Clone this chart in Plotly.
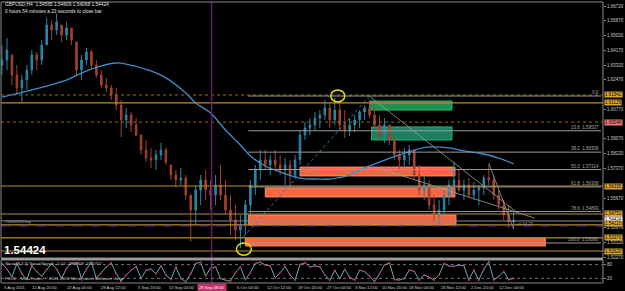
import plotly.graph_objects as go

# ---------------- data ----------------
# price candles (one candle per ~5 H4 bars)
highs = [1.6448,1.6488,1.6390,1.6332,1.6275,1.6332,1.6419,1.6407,1.6476,1.6603,
         1.6591,1.6626,1.6563,1.6580,1.6545,1.6465,1.6390,1.6430,1.6419,1.6361,
         1.6304,1.6258,1.6217,1.6200,1.6131,1.6085,1.6062,1.6027,1.5930,1.5901,
         1.5855,1.5843,1.5884,1.5855,1.5757,1.5728,1.5740,1.5699,1.5584,1.5642,
         1.5699,1.5728,1.5671,1.5699,1.5757,1.5671,1.5584,1.5527,1.5469,1.5556,
         1.5671,1.5757,1.5843,1.5843,1.5815,1.5843,1.5815,1.5797,1.5786,1.5815,
         1.5958,1.6004,1.6027,1.6062,1.6073,1.6131,1.6114,1.6143,1.6131,1.6073,
         1.6027,1.6045,1.6073,1.6102,1.6120,1.6085,1.6045,1.6027,1.5987,1.5930,
         1.5843,1.5855,1.5872,1.5843,1.5757,1.5699,1.5671,1.5584,1.5556,1.5613,
         1.5671,1.5774,1.5728,1.5671,1.5682,1.5659,1.5642,1.5699,1.5757,1.5699,
         1.5613,1.5556,1.5527,1.5486]
lows = [1.6275,1.6304,1.6217,1.6160,1.6120,1.6189,1.6275,1.6304,1.6332,1.6448,
        1.6476,1.6505,1.6465,1.6476,1.6448,1.6275,1.6246,1.6332,1.6304,1.6258,
        1.6200,1.6177,1.6131,1.6073,1.5918,1.5970,1.5947,1.5924,1.5815,1.5774,
        1.5740,1.5728,1.5786,1.5757,1.5671,1.5630,1.5642,1.5556,1.5314,1.5412,
        1.5527,1.5556,1.5498,1.5527,1.5556,1.5469,1.5354,1.5325,1.5279,1.5354,
        1.5469,1.5584,1.5671,1.5728,1.5699,1.5728,1.5699,1.5642,1.5625,1.5682,
        1.5757,1.5901,1.5930,1.5958,1.5970,1.6016,1.5970,1.5987,1.5958,1.5912,
        1.5924,1.5947,1.5970,1.6016,1.6027,1.5958,1.5901,1.5884,1.5872,1.5786,
        1.5728,1.5740,1.5757,1.5671,1.5584,1.5556,1.5498,1.5429,1.5406,1.5469,
        1.5527,1.5584,1.5602,1.5556,1.5567,1.5556,1.5527,1.5584,1.5642,1.5556,
        1.5498,1.5440,1.5394,1.5389]
closes = [1.6361,1.6419,1.6275,1.6200,1.6246,1.6304,1.6390,1.6361,1.6448,1.6563,
          1.6534,1.6580,1.6505,1.6545,1.6476,1.6304,1.6361,1.6407,1.6332,1.6275,
          1.6217,1.6200,1.6160,1.6102,1.6016,1.6045,1.5987,1.5930,1.5843,1.5797,
          1.5786,1.5815,1.5843,1.5774,1.5699,1.5671,1.5682,1.5584,1.5498,1.5613,
          1.5671,1.5613,1.5584,1.5642,1.5584,1.5498,1.5440,1.5383,1.5412,1.5527,
          1.5642,1.5728,1.5786,1.5757,1.5786,1.5757,1.5728,1.5757,1.5699,1.5786,
          1.5930,1.5970,1.5987,1.6027,1.6045,1.6085,1.6016,1.6073,1.5987,1.5958,
          1.5987,1.6016,1.6062,1.6085,1.6045,1.5987,1.5930,1.5987,1.5901,1.5815,
          1.5786,1.5815,1.5843,1.5699,1.5613,1.5642,1.5527,1.5469,1.5498,1.5584,
          1.5642,1.5671,1.5613,1.5642,1.5584,1.5613,1.5625,1.5682,1.5671,1.5584,
          1.5527,1.5469,1.5429,1.5440]
first_open = 1.6332

# moving average (bar index, price)
ma_bar = [0, 6, 13, 16, 20, 23, 25, 30, 33, 37, 39, 42, 45, 48, 50, 53, 56, 60,
          64, 66, 70, 73, 76, 80, 83, 86, 90, 93, 96, 100, 103]
ma_val = [1.6148, 1.6189, 1.6246, 1.6286, 1.6327, 1.6344, 1.6338, 1.6298, 1.6258,
          1.6171, 1.6114, 1.6056, 1.5958, 1.5872, 1.5809, 1.5751, 1.5717, 1.5682,
          1.5676, 1.5676, 1.5699, 1.5740, 1.5774, 1.5815, 1.5843, 1.5861, 1.5855,
          1.5838, 1.5826, 1.5797, 1.5763]

# stochastic oscillator
stoch = [85,60,27,85,40,15,75,50,30,60,
         85,60,20,65,85,88,20,60,90,20,
         45,70,88,40,8,35,55,72,20,55,
         60,40,75,35,15,70,20,5,40,85,
         90,30,65,70,20,12,8,45,70,15,
         45,85,90,78,75,22,45,72,35,13,
         80,88,70,75,70,35,12,55,20,60,
         25,13,55,50,30,6,40,78,88,15,
         13,20,56,50,13,35,25,13,35,85,
         75,72,78,75,13,56,13,60,92,13,
         28,50,15,20]
stoch_levels = [20, 80]

# fibonacci retracement
fib_pct = ["0.0", "23.6", "38.2", "50.0", "61.8", "78.6", "100.0"]
fib_price = [1.6154, 1.5954, 1.5831, 1.5731, 1.5631, 1.5489, 1.5308]
fib_text = ["", "1.59537", "1.58308", "1.57314", "1.56308", "1.54893", "1.53080"]
fib_start, fib_end = 49.6, 120.6
fib_diag_bar = [48.6, 74.0]
fib_diag_price = [1.5343, 1.6154]

# horizontal levels
gold_levels = [1.6114, 1.5636, 1.5475, 1.5412, 1.5337, 1.5262]
dotted_levels = [1.6160, 1.6004]
order_level = 1.5435
stop_level = 1.5406

# zones (bar0, bar1, price_top, price_bottom)
green_zones = [(74.0, 90.6, 1.6125, 1.6073), (74.4, 90.6, 1.5976, 1.5901)]
red_zones = [(60.0, 91.2, 1.5745, 1.5694), (53.0, 91.2, 1.5625, 1.5573),
             (49.6, 91.4, 1.5469, 1.5412), (49.0, 109.4, 1.5337, 1.5291)]

# trend lines (bar0, price0, bar1, price1)
trend_lines = [(74.2, 1.6148, 103.6, 1.5486), (75.6, 1.5740, 107.2, 1.5452),
               (98.0, 1.5768, 103.0, 1.5389)]

# circles (bar0, bar1, price_top, price_bottom)
circles = [(66.2, 69.0, 1.6189, 1.6120), (47.2, 50.2, 1.5308, 1.5238)]

vline_bar = 42.2

# price axis ticks
price_ticks = [1.66720, 1.65870, 1.65020, 1.64170, 1.63320, 1.62470, 1.60770,
               1.59070, 1.58220, 1.57370, 1.55670, 1.53970, 1.53120, 1.52270]

# right-axis price tags (price, text, colour)
price_tags = [(1.6160, "1.61542", "#d9a531"), (1.6114, "1.61125", "#d9a531"),
              (1.6004, "1.60048", "#f07a7a"), (1.5636, "1.56335", "#d9a531"),
              (1.5475, "1.54752", "#d9a531"), (1.5444, "1.54424", "#ffffff"),
              (1.5418, "1.54120", "#d9a531"), (1.5337, "1.53370", "#d9a531"),
              (1.5262, "1.52620", "#d9a531")]

# time axis
time_labels = ["5 Aug 2011", "12 Aug 20:00", "22 Aug 04:00", "29 Aug 12:00",
               "5 Sep 20:00", "13 Sep 04:00", "20 Sep 12:00", "6 Oct 04:00",
               "12 Oct 12:00", "19 Oct 20:00", "27 Oct 04:00", "3 Nov 12:00",
               "10 Nov 20:00", "18 Nov 04:00", "25 Nov 12:00", "2 Dec 20:00",
               "12 Dec 04:00"]
time_pos = [0, 5.6, 12.6, 19.6, 27, 33.2, 39.2, 47, 53, 59.2, 65, 70.6, 76.2,
            81.6, 88, 94, 99.6]
cursor_label = "29 Sep 08:00"

# ---------------- figure ----------------
W, H = 625, 291
ML, MR, MT, MB = 1, 18, 2, 8
PW, PH = W - ML - MR, H - MT - MB


def PX(x):
    return (x - ML) / PW


def PY(y):
    return (H - MB - y) / PH


bars = list(range(len(closes)))
opens = []
prev = first_open
for o_h, o_l, c in zip(highs, lows, closes):
    opens.append(min(max(prev, o_l), o_h))
    prev = c

UP, DN = "#2b86a6", "#a3422c"
fig = go.Figure()
fig.add_trace(go.Candlestick(
    x=bars, open=opens, high=highs, low=lows, close=closes,
    increasing=dict(line=dict(color=UP, width=1), fillcolor=UP),
    decreasing=dict(line=dict(color=DN, width=1), fillcolor=DN),
    whiskerwidth=0, xaxis="x", yaxis="y", hoverinfo="skip"))
fig.add_trace(go.Scatter(x=ma_bar, y=ma_val, mode="lines", line=dict(color="#3f8cc8", width=1.3, shape="spline"),
                         xaxis="x", yaxis="y", hoverinfo="skip"))
fig.add_trace(go.Scatter(x=fib_diag_bar, y=fib_diag_price, mode="lines",
                         line=dict(color="#2d7fb8", width=1, dash="dot"), xaxis="x", yaxis="y"))
for b0, p0, b1, p1 in trend_lines:
    fig.add_trace(go.Scatter(x=[b0, b1], y=[p0, p1], mode="lines",
                             line=dict(color="#a0a0a0", width=0.8), xaxis="x", yaxis="y"))
fig.add_trace(go.Scatter(x=bars, y=stoch, mode="lines", line=dict(color="#6fa9b4", width=1),
                         xaxis="x2", yaxis="y2", hoverinfo="skip"))
fig.add_trace(go.Scatter(x=bars, y=stoch, mode="markers", marker=dict(color="#d0206a", size=2),
                         xaxis="x2", yaxis="y2", hoverinfo="skip"))

shapes = []
# zones
for b0, b1, t, bt in red_zones:
    shapes.append(dict(type="rect", xref="x", yref="y", x0=b0, x1=b1, y0=bt, y1=t,
                       fillcolor="#f66640", line=dict(color="#ff8c6c", width=1), layer="below"))
for i, (b0, b1, t, bt) in enumerate(green_zones):
    shapes.append(dict(type="rect", xref="x", yref="y", x0=b0, x1=b1, y0=bt, y1=t,
                       fillcolor=["#1f9150", "#1c7f62"][i], line=dict(color="#2fb070", width=1), layer="below"))
# horizontal levels
for p in gold_levels:
    shapes.append(dict(type="line", xref="paper", yref="y", x0=0, x1=1, y0=p, y1=p,
                       line=dict(color="#b58d2e", width=1.2)))
for p in dotted_levels:
    shapes.append(dict(type="line", xref="paper", yref="y", x0=0, x1=1, y0=p, y1=p,
                       line=dict(color="#8c6a2a", width=1, dash="dot")))
shapes.append(dict(type="line", xref="paper", yref="y", x0=0, x1=1, y0=order_level, y1=order_level,
                   line=dict(color="#8c8c8c", width=1)))
shapes.append(dict(type="line", xref="paper", yref="y", x0=0, x1=1, y0=stop_level, y1=stop_level,
                   line=dict(color="#5a2aa8", width=1.2, dash="dash")))
# fib levels
for p in fib_price:
    shapes.append(dict(type="line", xref="x", yref="y", x0=fib_start, x1=fib_end, y0=p, y1=p,
                       line=dict(color="#9a9a9a", width=1)))
# circles
for b0, b1, t, bt in circles:
    shapes.append(dict(type="circle", xref="x", yref="y", x0=b0, x1=b1, y0=bt, y1=t,
                       line=dict(color="#e0e010", width=1.5)))
# vertical line
shapes.append(dict(type="line", xref="x", yref="paper", x0=vline_bar, x1=vline_bar, y0=0, y1=1,
                   line=dict(color="#6a1a6e", width=1.5)))
# stochastic levels
for lv in stoch_levels:
    shapes.append(dict(type="line", xref="paper", yref="y2", x0=0, x1=1, y0=lv, y1=lv,
                       line=dict(color="#8a8a8a", width=0.8, dash="dot")))
# frames
shapes.append(dict(type="rect", xref="paper", yref="paper", x0=0, x1=1, y0=PY(258), y1=1,
                   line=dict(color="#8a8a8a", width=1)))
shapes.append(dict(type="rect", xref="paper", yref="paper", x0=0, x1=1, y0=0, y1=PY(260),
                   line=dict(color="#8a8a8a", width=1)))
shapes.append(dict(type="rect", xref="paper", yref="paper", x0=0, x1=1, y0=PY(260), y1=PY(258),
                   fillcolor="#9a9a9a", line=dict(width=0)))

ann = []
F = "Liberation Sans"
ann.append(dict(xref="paper", yref="paper", x=PX(3), y=PY(5), xanchor="left", yanchor="middle",
                text="GBPUSD,H4  1.54565 1.54609 1.54068 1.54424", showarrow=False,
                font=dict(family=F, size=4.8, color="#e0e0e0")))
ann.append(dict(xref="paper", yref="paper", x=PX(3), y=PY(11.5), xanchor="left", yanchor="middle",
                text="0 hours 54 minutes a 23 seconds to close bar", showarrow=False,
                font=dict(family=F, size=4.8, color="#e0e0e0")))
ann.append(dict(xref="paper", yref="paper", x=PX(2), y=PY(250), xanchor="left", yanchor="middle",
                text="<b>1.54424</b>", showarrow=False, font=dict(family=F, size=11.5, color="#ffffff")))
ann.append(dict(xref="paper", yref="paper", x=PX(3), y=PY(222), xanchor="left", yanchor="middle",
                text="#11416370 buy", showarrow=False, font=dict(family=F, size=3.8, color="#b0b0b0")))
ann.append(dict(xref="x", yref="y", x=103.2, y=1.5423, xanchor="left", yanchor="middle",
                text="+0.54 23", showarrow=False, font=dict(family=F, size=4, color="#b0b0b0")))
for pct, p, t in zip(fib_pct, fib_price, fib_text):
    ann.append(dict(xref="x", yref="y", x=fib_end, y=p, xanchor="right", yanchor="bottom",
                    text=(pct + "  " + t) if t else pct, showarrow=False,
                    font=dict(family=F, size=4.5, color="#a8a8a8"), yshift=-1))
for p, t, c in price_tags:
    ann.append(dict(xref="paper", yref="y", x=PX(608), y=p, xanchor="left", yanchor="middle",
                    text=t, showarrow=False, bgcolor=c, borderpad=0,
                    font=dict(family=F, size=4.5, color="#000000")))
ann.append(dict(xref="paper", yref="paper", x=PX(3), y=PY(263), xanchor="left", yanchor="middle",
                text="Stoch(8,3,3) Stoch/Signal +1.01  19.0909  20.6702", showarrow=False,
                font=dict(family=F, size=4.3, color="#c0c0c0")))
ann.append(dict(xref="paper", yref="paper", x=PX(3), y=PY(278), xanchor="left", yanchor="middle",
                text="FXDD - MetaTrader, © 2001-2011 MetaQuotes Software Corp.", showarrow=False,
                font=dict(family=F, size=4.3, color="#c0c0c0")))
for t, pos in zip(time_labels, time_pos):
    ann.append(dict(xref="x2", yref="paper", x=pos, y=PY(287.5), xanchor="left", yanchor="middle",
                    text=t, showarrow=False, font=dict(family=F, size=4.2, color="#d0d0d0")))
ann.append(dict(xref="x2", yref="paper", x=vline_bar, y=PY(287.5), xanchor="center", yanchor="middle",
                text=cursor_label, showarrow=False, bgcolor="#c0306a", borderpad=1,
                font=dict(family=F, size=4.2, color="#ffffff")))

axis_common = dict(showgrid=False, zeroline=False, showline=False)
fig.update_layout(
    width=W, height=H, margin=dict(l=ML, r=MR, t=MT, b=MB),
    paper_bgcolor="#000000", plot_bgcolor="#000000", showlegend=False,
    boxgap=0.55,
    xaxis=dict(domain=[0, 1], range=[-0.2, 121], anchor="y", showticklabels=False,
               rangeslider=dict(visible=False), **axis_common),
    xaxis2=dict(domain=[0, 1], range=[-0.2, 121], anchor="y2", showticklabels=False, **axis_common),
    yaxis=dict(domain=[PY(258), 1], range=[1.52217, 1.66950], side="right", anchor="x",
               tickvals=price_ticks, ticktext=["%.5f" % v for v in price_ticks],
               tickfont=dict(family=F, size=4.5, color="#c8c8c8"), ticks="outside", ticklen=2,
               tickcolor="#8a8a8a", **axis_common),
    yaxis2=dict(domain=[0, PY(260)], range=[0, 100], side="right", anchor="x2",
                tickvals=stoch_levels, ticktext=[str(v) for v in stoch_levels],
                tickfont=dict(family=F, size=4.5, color="#c8c8c8"), ticks="outside", ticklen=2,
                tickcolor="#8a8a8a", **axis_common),
    shapes=shapes, annotations=ann,
)
fig.write_html("out.html")
